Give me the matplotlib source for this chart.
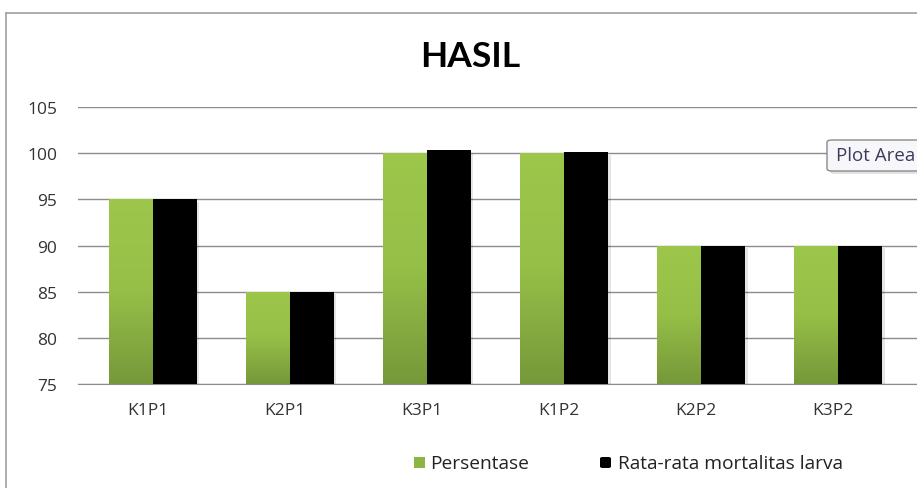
import matplotlib.pyplot as plt
import numpy as np
from matplotlib.colors import LinearSegmentedColormap
from matplotlib.patches import FancyBboxPatch

categories = ['K1P1', 'K2P1', 'K3P1', 'K1P2', 'K2P2', 'K3P2']
persentase = [95, 85, 100, 100, 90, 90]
rata_rata = [95, 85, 100.3, 100.1, 90, 90]
yticks = [75, 80, 85, 90, 95, 100, 105]

plt.rcParams['font.family'] = ['Open Sans', 'DejaVu Sans']

fig = plt.figure(figsize=(9.17, 4.89), dpi=100)
ax = fig.add_axes([0.085, 0.2127, 0.915, 0.5664])

x = np.arange(len(categories))
w = 0.32
green_map = LinearSegmentedColormap.from_list('g', ['#9dc74b', '#95bf47', '#76983a'])
grad = np.linspace(0, 1, 256).reshape(-1, 1)

# shadows
for xi, v1, v2 in zip(x, persentase, rata_rata):
    ax.bar(xi - w / 2 + 0.02, v1 - 75, w, bottom=75 - 0.25, color='#000000', alpha=0.06, zorder=2)
    ax.bar(xi + w / 2 + 0.02, v2 - 75, w, bottom=75 - 0.25, color='#000000', alpha=0.10, zorder=2)

green = ax.bar(x - w / 2, np.array(persentase) - 75, w, bottom=75, color='#8db543', zorder=3, label='Persentase')
black = ax.bar(x + w / 2, np.array(rata_rata) - 75, w, bottom=75, color='#000000', zorder=3, label='Rata-rata mortalitas larva')

# gradient fill for green bars
for b in green:
    x0, y0 = b.get_x(), b.get_y()
    im = ax.imshow(grad, cmap=green_map, aspect='auto', zorder=3.5,
                   extent=[x0, x0 + b.get_width(), y0, y0 + b.get_height()], origin='upper')
    im.set_clip_path(b)

ax.set_xlim(-0.547, 5.577)
ax.set_ylim(75, 105)
ax.set_yticks(yticks)
ax.set_xticks(x - 0.04)
ax.set_xticklabels(categories)
ax.yaxis.grid(True, color='#8c8c8c', linewidth=1)
ax.set_axisbelow(True)
for s in ['top', 'right', 'left']:
    ax.spines[s].set_visible(False)
ax.spines['bottom'].set_color('#8c8c8c')
ax.tick_params(axis='both', length=0, labelsize=12.5, colors='#333333')
ax.tick_params(axis='y', pad=15)
ax.tick_params(axis='x', pad=13)

fig.text(0.513, 1 - 57 / 489, 'HASIL', ha='center', va='center', fontsize=25.5, fontweight='bold',
         family=['Lato', 'DejaVu Sans'])

# chart border (top and left)
fig.add_artist(plt.Line2D([0.007, 1.0], [0.972, 0.972], transform=fig.transFigure, color='#a0a0a0', lw=1.2))
fig.add_artist(plt.Line2D([0.007, 0.007], [0.0, 0.972], transform=fig.transFigure, color='#a0a0a0', lw=1.2))

# legend
fig.add_artist(FancyBboxPatch((414 / 917, 1 - 469 / 489), 11 / 917, 11 / 489, transform=fig.transFigure,
                              boxstyle='square,pad=0', facecolor='#8db543', edgecolor='none'))
fig.text(430 / 917, 1 - 464 / 489, 'Persentase', fontsize=13.8, va='center', color='#222222')
fig.add_artist(FancyBboxPatch((600 / 917, 1 - 469 / 489), 11 / 917, 11 / 489, transform=fig.transFigure,
                              boxstyle='round,pad=0,rounding_size=0.003', facecolor='#000000', edgecolor='none'))
fig.text(618 / 917, 1 - 464 / 489, 'Rata-rata mortalitas larva', fontsize=13.8, va='center', color='#222222')

# tooltip
fig.add_artist(FancyBboxPatch((830 / 917, 1 - 175 / 489), 100 / 917, 31 / 489, transform=fig.transFigure,
                              boxstyle='round,pad=0,rounding_size=0.005', facecolor='#d0d0d0',
                              edgecolor='none', alpha=0.6))
fig.add_artist(FancyBboxPatch((827 / 917, 1 - 172 / 489), 100 / 917, 31 / 489, transform=fig.transFigure,
                              boxstyle='round,pad=0,rounding_size=0.005', facecolor='#f7f7fb',
                              edgecolor='#8a8a8a', lw=1))
fig.text(836 / 917, 1 - 156 / 489, 'Plot Area', fontsize=13.5, va='center', color='#3c3c5a')

fig.savefig('out.png', dpi=100)
